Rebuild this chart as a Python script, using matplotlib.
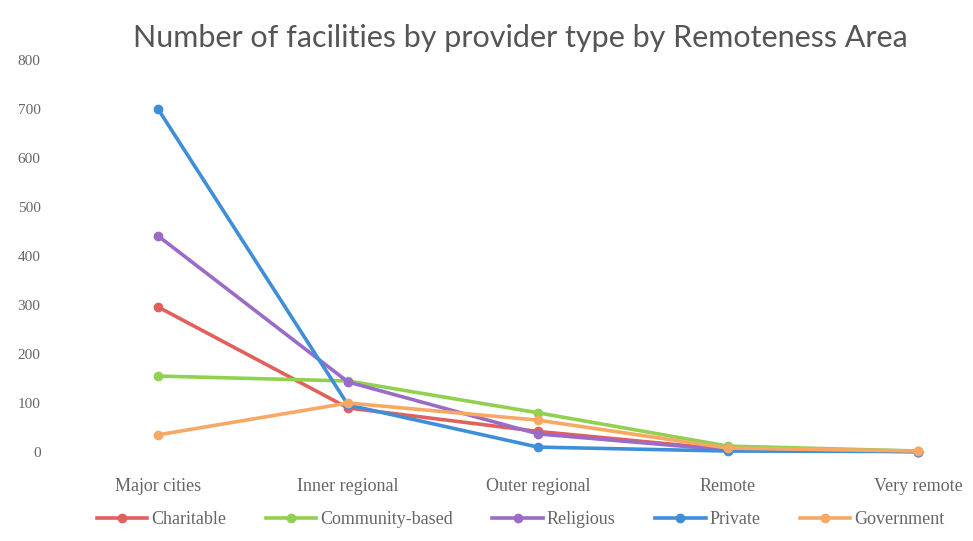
import numpy as np
import matplotlib.pyplot as plt

areas = ['Major cities', 'Inner regional', 'Outer regional', 'Remote', 'Very remote']
charitable = [296, 90, 42, 5, 1]
community = [155, 145, 80, 12, 2]
religious = [441, 143, 37, 4, 1]
private = [700, 96, 10, 2, 1]
government = [35, 100, 65, 8, 2]

series = [('Charitable', charitable, '#e0605c'),
          ('Community-based', community, '#92d050'),
          ('Religious', religious, '#9b6bc8'),
          ('Private', private, '#3f8fd8'),
          ('Government', government, '#f8a865')]

W, H = 973, 541
fig = plt.figure(figsize=(W / 100, H / 100), dpi=100)
# axes box in pixels: x 60..960, y 50..460 (from top)
ax = fig.add_axes([60 / W, (H - 460) / H, 900 / W, 410 / H])

x = np.arange(len(areas))
for name, vals, col in series:
    ax.plot(x, vals, color=col, lw=2.6, marker='o', ms=6, label=name)

ax.set_xlim(-0.516, 4.221)
ax.set_ylim(-16.3, 820.4)
ax.set_yticks(range(0, 801, 100))
ax.set_xticks(x)
ax.set_xticklabels(areas)

for s in ax.spines.values():
    s.set_visible(False)
ax.tick_params(axis='both', length=0, colors='#666666')
ax.tick_params(axis='x', pad=13, labelsize=13)
ax.tick_params(axis='y', pad=14, labelsize=11)
for lab in ax.get_xticklabels() + ax.get_yticklabels():
    lab.set_family('Liberation Serif')

fig.text(0.535, 0.93, 'Number of facilities by provider type by Remoteness Area',
         ha='center', va='center', fontsize=22, color='#555555', family='Lato')

leg = fig.legend(loc='center', bbox_to_anchor=(0.535, 0.04), ncol=5, frameon=False,
                 prop={'family': 'Liberation Serif', 'size': 13},
                 handlelength=2.8, columnspacing=2.2, handletextpad=0.2)
for t in leg.get_texts():
    t.set_color('#666666')

fig.savefig('out.png', dpi=100)
